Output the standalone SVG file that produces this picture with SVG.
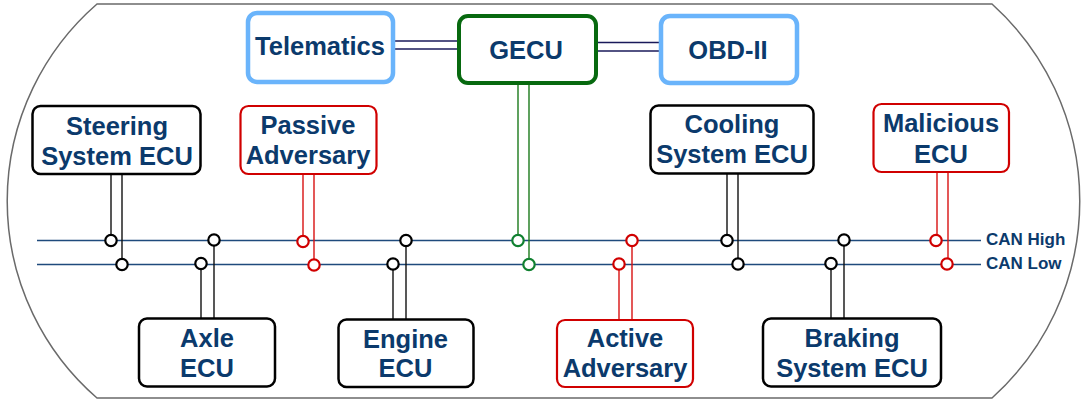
<svg xmlns="http://www.w3.org/2000/svg" width="1081" height="402" viewBox="0 0 1081 402">
<style>
text{font-family:"Liberation Sans",Arial,sans-serif;font-weight:bold;fill:#0b3a6c;text-anchor:middle}
.lbl{font-size:25.5px}
.can{font-size:17px;text-anchor:start}
.bk{fill:#fff;stroke:#000;stroke-width:2.5}
.rd{fill:#fff;stroke:#d00000;stroke-width:2.2}
.bl{fill:#fff;stroke:#6ab4fb;stroke-width:4.5}
.gr{fill:#fff;stroke:#07690f;stroke-width:4}
.wk{stroke:#111;stroke-width:1.4;fill:none}
.wr{stroke:#d81010;stroke-width:1.4;fill:none}
.wg{stroke:#1a7a1a;stroke-width:1.4;fill:none}
.wn{stroke:#1a1a5a;stroke-width:1.4;fill:none}
.bus{stroke:#1f4a7c;stroke-width:1.4}
.ck{fill:#fff;stroke:#000;stroke-width:2.2}
.cr{fill:#fff;stroke:#d00000;stroke-width:2.2}
.cg{fill:#fff;stroke:#108030;stroke-width:2.2}
</style>
<path d="M97,4 L992,4 A265,265 0 0 1 992,398 L97,398 A261,261 0 0 1 97,4 Z" fill="#fff" stroke="#6a6a6a" stroke-width="1.5"/>

<g id="connectors">
  <line class="bus" x1="37" y1="240.5" x2="981" y2="240.5"/>
  <line class="bus" x1="37" y1="264.5" x2="981" y2="264.5"/>
  <line class="wn" x1="393" y1="41" x2="458" y2="41"/>
  <line class="wn" x1="393" y1="49" x2="458" y2="49"/>
  <line class="wn" x1="596" y1="42.5" x2="660" y2="42.5"/>
  <line class="wn" x1="596" y1="51" x2="660" y2="51"/>
  <line class="wg" x1="518" y1="83" x2="518" y2="240"/>
  <line class="wg" x1="529" y1="83" x2="529" y2="264"/>
  <line class="wk" x1="111" y1="174" x2="111" y2="240"/>
  <line class="wk" x1="122" y1="174" x2="122" y2="264"/>
  <line class="wr" x1="303" y1="174" x2="303" y2="241"/>
  <line class="wr" x1="314" y1="174" x2="314" y2="265"/>
  <line class="wk" x1="201" y1="264" x2="201" y2="318"/>
  <line class="wk" x1="214" y1="240" x2="214" y2="318"/>
  <line class="wk" x1="393" y1="264" x2="393" y2="319"/>
  <line class="wk" x1="406" y1="240" x2="406" y2="319"/>
  <line class="wr" x1="619" y1="264" x2="619" y2="320"/>
  <line class="wr" x1="632" y1="241" x2="632" y2="320"/>
  <line class="wk" x1="727" y1="173" x2="727" y2="240"/>
  <line class="wk" x1="738" y1="173" x2="738" y2="264"/>
  <line class="wk" x1="831" y1="264" x2="831" y2="318"/>
  <line class="wk" x1="844" y1="240" x2="844" y2="318"/>
  <line class="wr" x1="937" y1="172" x2="937" y2="240"/>
  <line class="wr" x1="948" y1="172" x2="948" y2="264"/>
  <circle class="ck" cx="111" cy="240.5" r="5.7"/>
  <circle class="ck" cx="122" cy="264.5" r="5.7"/>
  <circle class="ck" cx="214" cy="240" r="5.7"/>
  <circle class="ck" cx="201" cy="263.5" r="5.7"/>
  <circle class="cr" cx="303" cy="241.5" r="5.7"/>
  <circle class="cr" cx="314" cy="265" r="5.7"/>
  <circle class="ck" cx="406" cy="240.5" r="5.7"/>
  <circle class="ck" cx="393" cy="264" r="5.7"/>
  <circle class="cg" cx="518" cy="240.5" r="5.7"/>
  <circle class="cg" cx="529" cy="264.5" r="5.7"/>
  <circle class="cr" cx="632" cy="240.5" r="5.7"/>
  <circle class="cr" cx="619" cy="264" r="5.7"/>
  <circle class="ck" cx="727" cy="240.5" r="5.7"/>
  <circle class="ck" cx="738" cy="264" r="5.7"/>
  <circle class="ck" cx="844" cy="240" r="5.7"/>
  <circle class="ck" cx="831" cy="263.5" r="5.7"/>
  <circle class="cr" cx="936" cy="240.5" r="5.7"/>
  <circle class="cr" cx="947" cy="264" r="5.7"/>
</g>

<g id="telematics"><rect class="bl" x="248" y="13" width="145" height="69" rx="9"/><text class="lbl" x="320" y="55">Telematics</text></g>
<g id="gecu"><rect class="gr" x="459" y="16" width="137" height="67" rx="9"/><text class="lbl" x="526" y="59">GECU</text></g>
<g id="obd"><rect class="bl" x="661" y="16" width="136" height="67" rx="9"/><text class="lbl" x="728" y="59">OBD-II</text></g>

<g id="steering"><rect class="bk" x="32.5" y="106" width="168" height="68" rx="8"/><text class="lbl" x="117" y="135">Steering</text><text class="lbl" x="117" y="165">System ECU</text></g>
<g id="passive"><rect class="rd" x="240.5" y="106" width="136" height="68" rx="8"/><text class="lbl" x="308" y="134">Passive</text><text class="lbl" x="308" y="164">Adversary</text></g>
<g id="cooling"><rect class="bk" x="650.5" y="105.5" width="163" height="68" rx="8"/><text class="lbl" x="732" y="133">Cooling</text><text class="lbl" x="732" y="163">System ECU</text></g>
<g id="malicious"><rect class="rd" x="873.5" y="104" width="135.5" height="68" rx="8"/><text class="lbl" x="941" y="132">Malicious</text><text class="lbl" x="941" y="162.5">ECU</text></g>

<g id="axle"><rect class="bk" x="139" y="318.5" width="136" height="68" rx="8"/><text class="lbl" x="207" y="347">Axle</text><text class="lbl" x="207" y="377">ECU</text></g>
<g id="engine"><rect class="bk" x="338.5" y="319.5" width="135" height="67.5" rx="8"/><text class="lbl" x="405.5" y="347.5">Engine</text><text class="lbl" x="405.5" y="377">ECU</text></g>
<g id="active"><rect class="rd" x="557" y="320" width="136" height="67" rx="8"/><text class="lbl" x="625" y="347">Active</text><text class="lbl" x="625" y="377">Adversary</text></g>
<g id="braking"><rect class="bk" x="763" y="318.5" width="178" height="68" rx="8"/><text class="lbl" x="852" y="347">Braking</text><text class="lbl" x="852" y="377">System ECU</text></g>

<g id="labels"><text class="can" x="986" y="244.5">CAN High</text><text class="can" x="986" y="268.5">CAN Low</text></g>
</svg>
